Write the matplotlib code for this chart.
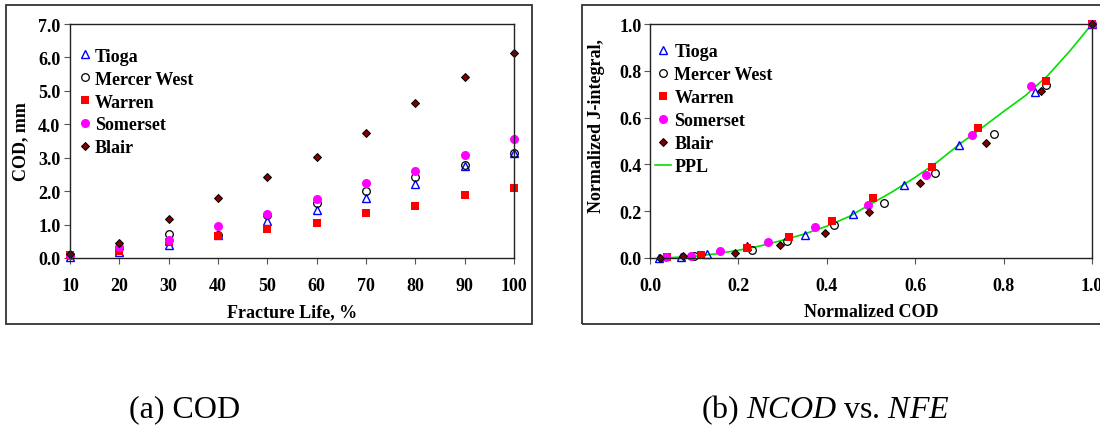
import matplotlib
import matplotlib.pyplot as plt
from matplotlib.patches import Rectangle

matplotlib.use('Agg')

plt.rcParams['font.family'] = ['Liberation Serif', 'DejaVu Serif']
plt.rcParams['font.weight'] = 'bold'
plt.rcParams['mathtext.fontset'] = 'custom'
plt.rcParams['mathtext.it'] = 'Liberation Serif:style=italic:weight=normal'
plt.rcParams['mathtext.rm'] = 'Liberation Serif:weight=normal'

# (a) COD vs fracture life
life = [10, 20, 30, 40, 50, 60, 70, 80, 90, 100]
cod_tioga = [0.03, 0.18, 0.38, 0.68, 1.10, 1.45, 1.80, 2.20, 2.74, 3.14]
cod_mercer = [0.10, 0.30, 0.72, 0.68, 1.30, 1.65, 2.00, 2.43, 2.78, 3.14]
cod_warren = [0.08, 0.22, 0.47, 0.66, 0.87, 1.06, 1.34, 1.56, 1.88, 2.10]
cod_somerset = [0.10, 0.33, 0.55, 0.97, 1.32, 1.76, 2.23, 2.60, 3.07, 3.56]
cod_blair = [0.13, 0.45, 1.17, 1.80, 2.42, 3.02, 3.74, 4.65, 5.41, 6.12]

# (b) normalized COD vs normalized J-integral
ncod_tioga = [0.02, 0.07, 0.13, 0.22, 0.35, 0.459, 0.575, 0.698, 0.871, 1.0]
nj_tioga = [0.0, 0.005, 0.017, 0.05, 0.10, 0.188, 0.312, 0.483, 0.708, 1.0]
ncod_mercer = [0.10, 0.23, 0.31, 0.417, 0.529, 0.645, 0.779, 0.895, 1.0]
nj_mercer = [0.01, 0.035, 0.074, 0.141, 0.235, 0.363, 0.53, 0.739, 1.0]
ncod_warren = [0.039, 0.115, 0.22, 0.315, 0.411, 0.505, 0.638, 0.743, 0.896, 1.0]
nj_warren = [0.003, 0.013, 0.044, 0.088, 0.157, 0.256, 0.387, 0.554, 0.758, 1.0]
ncod_somerset = [0.036, 0.093, 0.158, 0.268, 0.374, 0.494, 0.624, 0.728, 0.862, 1.0]
nj_somerset = [0.003, 0.01, 0.03, 0.07, 0.134, 0.227, 0.356, 0.526, 0.737, 1.0]
ncod_blair = [0.023, 0.075, 0.192, 0.294, 0.397, 0.495, 0.611, 0.76, 0.885, 1.0]
nj_blair = [0.0, 0.007, 0.021, 0.054, 0.107, 0.195, 0.319, 0.49, 0.714, 1.0]
ppl_x = [0.02, 0.05, 0.10, 0.15, 0.20, 0.25, 0.30, 0.35, 0.40, 0.45, 0.50,
         0.55, 0.60, 0.65, 0.70, 0.75, 0.80, 0.85, 0.90, 0.95, 1.00]
ppl_y = [0.0, 0.002, 0.007, 0.018, 0.033, 0.052, 0.076, 0.103, 0.136, 0.177, 0.231,
         0.285, 0.345, 0.41, 0.486, 0.555, 0.626, 0.695, 0.78, 0.885, 1.0]

styles = {
    'Tioga': dict(marker='^', ms=6, mfc='none', mec='#0000ff', mew=1.0),
    'Mercer West': dict(marker='o', ms=5.5, mfc='none', mec='black', mew=0.9),
    'Warren': dict(marker='s', ms=5.5, mfc='#ff0000', mec='#ff0000', mew=0),
    'Somerset': dict(marker='o', ms=6.5, mfc='#ff00ff', mec='#ff00ff', mew=0),
    'Blair': dict(marker='D', ms=4.2, mfc='#800000', mec='black', mew=0.7),
}

fig = plt.figure(figsize=(11, 4.31), dpi=100)
W, H = 1100, 431
FS = 13


def fig_rect(x0, y0, x1, y1):
    return [x0 / W, 1 - y1 / H, (x1 - x0) / W, (y1 - y0) / H]


def style_axes(ax, ypad):
    for sp in ax.spines.values():
        sp.set_color('#222222')
        sp.set_linewidth(1.0)
    ax.tick_params(direction='out', length=4, width=0.8, color='#555555',
                   labelsize=FS)
    ax.tick_params(axis='x', pad=10)
    ax.tick_params(axis='y', pad=ypad)
    for lab in ax.get_xticklabels() + ax.get_yticklabels():
        lab.set_fontweight('bold')


# outer frames
fig.patches.append(Rectangle((6 / W, 1 - 325 / H), (532 - 6) / W, (325 - 6) / H,
                             transform=fig.transFigure, fill=False, ec='#333333', lw=1.3))
fig.patches.append(Rectangle((582 / W, 1 - 325 / H), (1110 - 582) / W, (325 - 6) / H,
                             transform=fig.transFigure, fill=False, ec='#333333', lw=1.3))

# (a)
ax1 = fig.add_axes(fig_rect(70, 25, 514, 259))
series_a = [('Tioga', cod_tioga), ('Mercer West', cod_mercer), ('Warren', cod_warren),
            ('Somerset', cod_somerset), ('Blair', cod_blair)]
for name, vals in series_a:
    ax1.plot(life, vals, ls='none', label=name, clip_on=False, **styles[name])
ax1.set_xlim(10, 100)
ax1.set_ylim(0, 7)
ax1.set_xticks(life)
ax1.set_yticks([0, 1, 2, 3, 4, 5, 6, 7])
ax1.set_yticklabels(['%.1f' % v for v in range(8)])
ax1.set_xlabel('Fracture Life, %', fontsize=FS, fontweight='bold', labelpad=6)
ax1.set_ylabel('COD, mm', fontsize=FS, fontweight='bold', labelpad=6)
style_axes(ax1, 3)
ax1.legend(loc='upper left', frameon=False, fontsize=FS, handlelength=0.85,
           handletextpad=0.12, labelspacing=0.33, borderaxespad=0.0,
           bbox_to_anchor=(0.0, 0.93))

# (b)
ax2 = fig.add_axes(fig_rect(650, 25, 1092, 259))
series_b = [('Tioga', ncod_tioga, nj_tioga), ('Mercer West', ncod_mercer, nj_mercer),
            ('Warren', ncod_warren, nj_warren), ('Somerset', ncod_somerset, nj_somerset),
            ('Blair', ncod_blair, nj_blair)]
for name, xs, ys in series_b:
    ax2.plot(xs, ys, ls='none', label=name, clip_on=False, **styles[name])
ax2.plot(ppl_x, ppl_y, color='#00e000', lw=1.2, label='PPL', zorder=1)
ax2.set_xlim(0, 1)
ax2.set_ylim(0, 1)
ax2.set_xticks([0, 0.2, 0.4, 0.6, 0.8, 1.0])
ax2.set_yticks([0, 0.2, 0.4, 0.6, 0.8, 1.0])
ax2.set_xticklabels(['0.0', '0.2', '0.4', '0.6', '0.8', '1.0'])
ax2.set_yticklabels(['0.0', '0.2', '0.4', '0.6', '0.8', '1.0'])
ax2.set_xlabel('Normalized COD', fontsize=FS, fontweight='bold', labelpad=6)
ax2.set_ylabel('Normalized J-integral,', fontsize=FS, fontweight='bold')
ax2.yaxis.set_label_coords(-0.102, 0.568)
style_axes(ax2, 2)
ax2.legend(loc='upper left', frameon=False, fontsize=FS, handlelength=0.85,
           handletextpad=0.2, labelspacing=0.33, borderaxespad=0.0,
           bbox_to_anchor=(-0.004, 0.949))

# captions
fig.text(185 / W, 1 - 410 / H, '(a) COD', fontsize=23, fontweight='normal',
         ha='center', va='center')
fig.text(825 / W, 1 - 410 / H, r'(b) $\mathit{NCOD}$ vs. $\mathit{NFE}$', fontsize=23,
         fontweight='normal', ha='center', va='center')

fig.savefig('out.png', dpi=100)
